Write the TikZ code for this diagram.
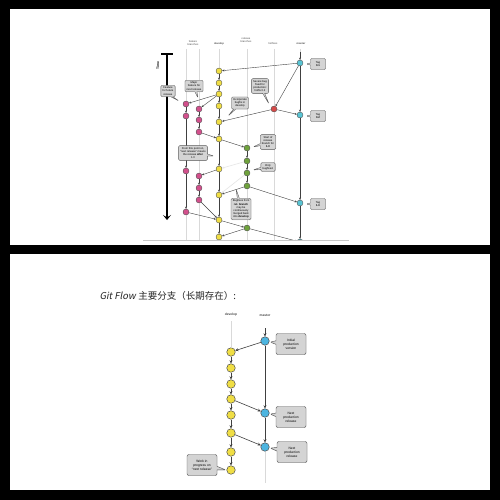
\documentclass[tikz,border=0pt]{standalone}
\usepackage{fontspec}
\setmainfont{Liberation Sans}
\newfontfamily\cjk{Noto Sans CJK SC}
\newfontfamily\cjkslant[FakeSlant=0.2]{Noto Sans CJK SC}
\usetikzlibrary{arrows.meta,shapes.callouts,shadows}

\definecolor{devyellow}{HTML}{F0DE45}
\definecolor{featpink}{HTML}{D2508C}
\definecolor{relgreen}{HTML}{6FA23C}
\definecolor{hotred}{HTML}{D64A48}
\definecolor{mastcyan}{HTML}{58C4D4}
\definecolor{mastblue}{HTML}{4DB5E0}

\tikzset{
  commit/.style={circle, draw=black!70, line width=0.35pt, minimum size=6pt, inner sep=0pt},
  dev/.style={commit, fill=devyellow},
  feat/.style={commit, fill=featpink},
  rel/.style={commit, fill=relgreen},
  hot/.style={commit, fill=hotred},
  mast/.style={commit, fill=mastcyan},
  big/.style={minimum size=8.5pt, line width=0.5pt},
  link/.style={draw=black!75, line width=0.4pt, -{Stealth[length=2.2pt,width=2pt]}},
  biglink/.style={draw=black!75, line width=0.6pt, -{Stealth[length=3.2pt,width=3pt]}},
  fainted/.style={draw=black!10, line width=0.6pt, -{Stealth[length=2.2pt,width=2pt]}},
  lane/.style={draw=black!15, line width=0.3pt},
  bubble/.style={rectangle callout, draw=black!65, fill=black!17, rounded corners=1.2pt,
    align=center, inner sep=1.7pt, line width=0.35pt, font=\fontsize{2.7}{3.1}\selectfont,
    callout pointer width=2pt,
    drop shadow={opacity=0.25, shadow xshift=0.4pt, shadow yshift=-0.4pt}},
  tagbox/.style={bubble, minimum width=15pt, minimum height=11pt},
  bigbubble/.style={bubble, rounded corners=2pt, line width=0.45pt, inner sep=1.5pt,
    callout pointer width=3.5pt,
    minimum width=30pt, minimum height=21pt, font=\fontsize{3.3}{4}\selectfont},
  lbl/.style={font=\fontsize{2.6}{3}\selectfont, align=center, text=black!70},
}

\begin{document}
\begin{tikzpicture}[x=1pt, y=-1pt]
  \useasboundingbox (0,0) rectangle (500,500);
  % Frame
  \fill[black] (0,0) rectangle (500,500);
  \fill[white] (9.5,9.5) rectangle (489.5,244.5);
  \fill[white] (9.5,254) rectangle (489.5,489.5);

  % ---------- Top panel: full branching model ----------
  \begin{scope}
    \clip (140,30) rectangle (360,240.5);
    % Lanes
    \foreach \x in {186,199,219,247,274,300}
      \draw[lane] (\x,49) -- (\x,243);

    % Column labels
    \node[lbl] (lfeat) at (193,43) {feature\\branches};
    \node[lbl, font=\fontsize{2.6}{3}\selectfont\bfseries] (ldev) at (219,44) {develop};
    \node[lbl] (lrel) at (246,40) {release\\branches};
    \node[lbl] (lhot) at (273,44) {hotfixes};
    \node[lbl, font=\fontsize{2.6}{3}\selectfont\bfseries] (lmast) at (301,44) {master};

    % Time
    \draw[line width=1.1pt] (161,54) -- (173,54);
    \draw[line width=1.1pt, -{Stealth[length=5pt,width=8pt,inset=2.5pt]}] (167,54) -- (167,220);
    \node[rotate=90, font=\fontsize{3.4}{4}\selectfont\bfseries] (ltime) at (158,66) {Time};

    % Commits
    \node[mast] (m1) at (300,63) {};
    \node[mast] (m2) at (300,115) {};
    \node[mast] (m3) at (300,203) {};
    \node[mast] (m4) at (300,242) {};
    \node[hot] (h1) at (274,109) {};
    \foreach \n/\y in {1/148,2/161,3/173,4/186,5/228}
      \node[rel] (r\n) at (247,\y) {};
    \foreach \n/\y in {1/71,2/83,3/94,4/106,5/122,6/139,7/169,8/195,9/220,10/237}
      \node[dev] (d\n) at (219,\y) {};
    \foreach \n/\y in {1/104,2/116,3/171,4/212}
      \node[feat] (f\n) at (186,\y) {};
    \foreach \n/\y in {1/109,2/120,3/132,4/176,5/188,6/200}
      \node[feat] (g\n) at (199,\y) {};

    % Connections
    \coordinate (mtop) at (300,52);
    \draw[link] (mtop) -- (m1);
    \foreach \a/\b in {d1/d2,d2/d3,d3/d4,d4/d5,d5/d6,d6/d7,d7/d8,d8/d9,d9/d10,
        m1/m2,m2/m3,m3/m4,r1/r2,r2/r3,r3/r4,f1/f2,f2/f3,f3/f4,g1/g2,g2/g3,g4/g5,g5/g6,
        m1/d1,m1/h1,h1/m2,h1/d5,d3/f1,d3/g1,g3/d6,d6/r1,r4/d8,r4/m3,
        d7/g4,g6/d9,f4/d9,d9/r5,r5/m4,r5/d10}
      \draw[link] (\a) -- (\b);
    \draw[fainted] (r2) -- (d7);
    \draw[fainted] (r3) -- (d8);

    % Notes
    \node[bubble, callout absolute pointer={(179,101)}] (nfut) at (168,91) {Feature\\for future\\release};
    \node[bubble, callout absolute pointer={(198,98)}] (nmaj) at (194,86) {Major\\feature for\\next release};
    \node[bubble, callout absolute pointer={(228,116)}] (ninc) at (240,103) {Incorporate\\bugfix in\\develop};
    \node[bubble, callout absolute pointer={(269,104)}] (nsev) at (260,86) {Severe bug\\fixed for\\production:\\hotfix 0.2};
    \node[tagbox, callout absolute pointer={(306,64)}] (tag1) at (318,64) {Tag\\\textbf{0.1}};
    \node[tagbox, callout absolute pointer={(306,116)}] (tag2) at (318,116) {Tag\\\textbf{0.2}};
    \node[tagbox, callout absolute pointer={(306,204)}] (tag3) at (318,204) {Tag\\\textbf{1.0}};
    \node[bubble, callout absolute pointer={(253,147)}] (nstart) at (268,142) {Start of\\release\\branch for\\\textbf{1.0}};
    \node[bubble, callout absolute pointer={(253,170)}] (nonly) at (268,167) {Only\\bugfixes!};
    \node[bubble, callout absolute pointer={(214,156)}] (nfrom) at (193,153) {From this point on,\\“next release” means\\the release \textbf{after}\\1.0};
    \node[bubble, callout absolute pointer={(236,189)}] (nbug) at (241,209) {Bugfixes from\\\textbf{rel. branch}\\may be\\continuously\\merged back\\into \textbf{develop}};
  \end{scope}
  \draw[black!22, line width=0.9pt] (143,240.8) -- (349,240.8);

  % ---------- Bottom panel: main branches ----------
  \node[anchor=west, text=black!85, font=\fontsize{9.5}{11}\selectfont] (title) at (96,296)
    {{\cjkslant Git Flow} \cjk 主要分支（长期存在）:};

  \node[lbl, font=\fontsize{3.3}{4}\selectfont\bfseries] (bdev) at (231,315) {develop};
  \node[lbl, font=\fontsize{3.3}{4}\selectfont\bfseries] (bmast) at (265,315) {master};

  \foreach \n/\y in {1/352,2/368,3/384,4/399,5/415,6/433,7/452,8/470}
    \node[dev, big] (D\n) at (231,\y) {};
  \foreach \n/\y in {1/341,2/413,3/447}
    \node[commit, big, fill=mastblue] (M\n) at (265,\y) {};

  \coordinate (dtop) at (231,321);
  \coordinate (mtop2) at (265,328);
  \coordinate (mend) at (265,483);
  \draw[lane, line width=0.5pt] (dtop) -- (D1);
  \draw[lane, line width=0.5pt] (M3) -- (mend);
  \draw[biglink] (mtop2) -- (M1);
  \foreach \a/\b in {D1/D2,D2/D3,D3/D4,D4/D5,D5/D6,D6/D7,D7/D8,M1/M2,M2/M3,M1/D1,D4/M2,D6/M3}
    \draw[biglink] (\a) -- (\b);

  \node[bigbubble, callout absolute pointer={(270,342)}] (ninit) at (291,344) {Initial\\production\\version};
  \node[bigbubble, callout absolute pointer={(270,414)}] (nnext1) at (291,417) {Next\\production\\release};
  \node[bigbubble, callout absolute pointer={(270,448)}] (nnext2) at (292,452) {Next\\production\\release};
  \node[bigbubble, callout absolute pointer={(226,470)}] (nwork) at (202,465) {Work in\\progress on\\“next release”};
\end{tikzpicture}
\end{document}
